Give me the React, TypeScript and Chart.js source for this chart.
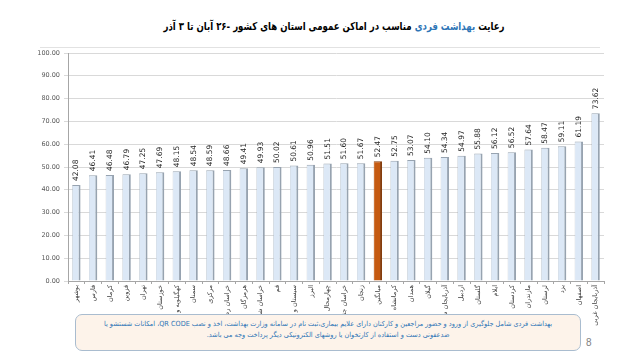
import React, { useEffect, useRef } from "react";
import { Chart, registerables } from "chart.js";

Chart.register(...registerables);

const provinces: string[] = [
  "بوشهر", "فارس", "کرمان", "قزوین", "تهران", "خوزستان", "کهگیلویه و بویراحمد", "سمنان",
  "مرکزی", "خراسان رضوی", "هرمزگان", "خراسان شمالی", "قم", "سیستان و بلوچستان", "البرز",
  "چهارمحال و بختیاری", "خراسان جنوبی", "زنجان", "میانگین", "کرمانشاه", "همدان", "گیلان",
  "آذربایجان شرقی", "اردبیل", "گلستان", "ایلام", "کردستان", "مازندران", "لرستان", "یزد",
  "اصفهان", "آذربایجان غربی",
];

const compliance: number[] = [
  42.08, 46.41, 46.48, 46.79, 47.25, 47.69, 48.15, 48.54, 48.59, 48.66, 49.41, 49.93,
  50.02, 50.61, 50.96, 51.51, 51.6, 51.67, 52.47, 52.75, 53.07, 54.1, 54.34, 54.97,
  55.88, 56.12, 56.52, 57.64, 58.47, 59.11, 61.19, 73.62,
];

const highlightLabel = "میانگین";
const yTicks: number[] = [0, 10, 20, 30, 40, 50, 60, 70, 80, 90, 100];

const titleStart = "رعایت ";
const titleBlue = "بهداشت فردی";
const titleEnd = " مناسب در اماکن عمومی استان های کشور -۲۶ آبان تا ۳ آذر";
const noteLine1 =
  "بهداشت فردی شامل جلوگیری از ورود و حضور مراجعین و کارکنان دارای علایم بیماری،ثبت نام در سامانه وزارت بهداشت، اخذ و نصب QR CODE، امکانات شستشو یا";
const noteLine2 = "ضدعفونی دست و استفاده از کارتخوان یا روشهای الکترونیکی دیگر پرداخت وجه می باشد.";

const FONT = "'DejaVu Sans', sans-serif";

const valueLabels = {
  id: "valueLabels",
  afterDatasetsDraw(chart: any) {
    const ctx = chart.ctx;
    const meta = chart.getDatasetMeta(0);
    ctx.save();
    ctx.font = `7.5px ${FONT}`;
    ctx.fillStyle = "#262626";
    ctx.textAlign = "left";
    ctx.textBaseline = "middle";
    meta.data.forEach((bar: any, i: number) => {
      const v = compliance[i];
      ctx.save();
      ctx.translate(bar.x, bar.y - 4);
      ctx.rotate(-Math.PI / 2);
      ctx.fillText(v.toFixed(2), 0, 0);
      ctx.restore();
    });
    ctx.restore();
  },
};

export default function App() {
  const canvasRef = useRef<HTMLCanvasElement | null>(null);

  useEffect(() => {
    if (!canvasRef.current) return;
    const fills = provinces.map((p) => (p === highlightLabel ? "#c55a11" : "#dce8f6"));
    const borders = provinces.map((p) => (p === highlightLabel ? "#843c0c" : "#97a3b0"));
    const chart = new Chart(canvasRef.current, {
      type: "bar",
      data: {
        labels: provinces,
        datasets: [
          {
            data: compliance,
            backgroundColor: fills,
            borderColor: borders,
            borderWidth: { top: 1, left: 0.5, right: 2, bottom: 0 } as any,
            borderSkipped: false,
            barPercentage: 0.5,
            categoryPercentage: 1,
          },
        ],
      },
      options: {
        animation: false,
        responsive: false,
        maintainAspectRatio: false,
        layout: { padding: { top: 13, right: 36, left: 0, bottom: 0 } },
        plugins: { legend: { display: false }, tooltip: { enabled: false }, title: { display: false } },
        scales: {
          x: {
            grid: { display: true, drawOnChartArea: false, offset: true, tickLength: 3, color: "#a6a6a6" },
            border: { color: "#a6a6a6" },
            ticks: {
              autoSkip: false,
              minRotation: 90,
              maxRotation: 90,
              color: "#404040",
              font: { family: FONT, size: 6.5 },
              padding: 1,
            },
            afterFit: (s: any) => {
              s.height = 49;
            },
          },
          y: {
            min: 0,
            max: 100,
            afterBuildTicks: (s: any) => {
              s.ticks = yTicks.map((v) => ({ value: v }));
            },
            grid: { color: "#d9d9d9", tickLength: 4 },
            border: { color: "#a6a6a6" },
            ticks: {
              color: "#595959",
              font: { family: FONT, size: 6.5 },
              padding: 4,
              callback: (v: any) => Number(v).toFixed(2),
            },
            afterFit: (s: any) => {
              s.width = 68;
            },
          },
        },
      },
      plugins: [valueLabels],
    });
    return () => chart.destroy();
  }, []);

  return (
    <div style={{ position: "absolute", left: 0, top: 0, width: 640, height: 360, background: "#ffffff", overflow: "hidden", fontFamily: FONT }}>
      <div
        style={{
          position: "absolute",
          left: 0,
          top: 20,
          width: 668,
          textAlign: "center",
          direction: "rtl",
          fontWeight: "bold",
          fontSize: 11,
          color: "#000000",
          whiteSpace: "nowrap",
          transform: "scaleX(0.78)",
          transformOrigin: "334px 0",
        }}
      >
        {titleStart}
        <span style={{ color: "#2e75b6" }}>{titleBlue}</span>
        {titleEnd}
      </div>
      <div style={{ position: "absolute", left: 40, top: 47, width: 560, height: 1, background: "#e2e2e2" }} />
      <canvas ref={canvasRef} width={640} height={290} style={{ position: "absolute", left: 0, top: 40, width: 640, height: 290 }} />
      <div
        style={{
          position: "absolute",
          left: 75,
          top: 314,
          width: 506,
          height: 37,
          boxSizing: "border-box",
          border: "1px solid #a9bccf",
          borderRadius: 7,
          background: "#fdf3ea",
          color: "#2e75b6",
          fontSize: 7,
          lineHeight: "11px",
          direction: "rtl",
          textAlign: "center",
          paddingTop: 4,
        }}
      >
        <div style={{ whiteSpace: "nowrap", transform: "scaleX(0.93)", transformOrigin: "253px 0" }}>{noteLine1}</div>
        <div style={{ whiteSpace: "nowrap", transform: "scaleX(0.93)", transformOrigin: "253px 0" }}>{noteLine2}</div>
      </div>
      <div style={{ position: "absolute", left: 586, top: 337, fontSize: 10, color: "#7f7f7f", fontFamily: "'Liberation Sans', sans-serif" }}>8</div>
    </div>
  );
}
